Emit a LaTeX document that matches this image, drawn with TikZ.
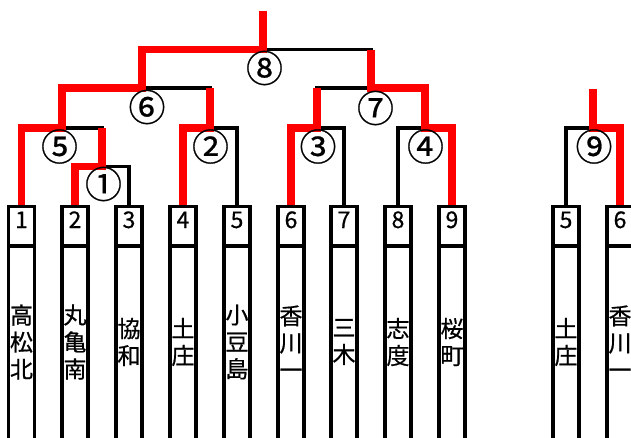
\documentclass[tikz,border=0pt]{standalone}
\usepackage{fontspec}
\newfontfamily\jp{Noto Sans CJK JP}
\newfontfamily\jpb[FakeBold=0.6]{Noto Sans CJK JP}
\begin{document}
\begin{tikzpicture}[x=1pt,y=-1pt,
  blk/.style={line width=3.2pt,black},
  redl/.style={line width=7.5pt,red,line join=miter},
  numbox/.style={draw,line width=3.6pt,minimum width=26pt,minimum height=39.5pt,inner sep=0pt,outer sep=0pt},
  namebox/.style={draw,line width=3.6pt,minimum width=26pt,minimum height=200pt,inner sep=0pt,outer sep=0pt,anchor=north},
  numtxt/.style={font=\jpb\fontsize{23}{23}\selectfont,inner sep=0pt,anchor=base},
  nametxt/.style={font=\jpb\fontsize{23}{27}\selectfont,inner sep=0pt,align=center},
  lab/.style={font=\jpb\fontsize{37}{37}\selectfont,inner sep=0pt}]
\useasboundingbox (0,0) rectangle (631,437);
\clip (0,0) rectangle (631,437);
\fill[white] (0,0) rectangle (631,437);
% junctions
\coordinate (m1) at (102,166.5);
\coordinate (m5) at (62,128);
\coordinate (m2) at (210,128);
\coordinate (m6) at (142,88);
\coordinate (m3) at (317,128);
\coordinate (m4) at (425,128);
\coordinate (m7) at (371,88);
\coordinate (m8) at (263,49.5);
\coordinate (top8) at (263,11);
\coordinate (m9) at (593,128);
\coordinate (top9) at (593,89);
\foreach \i/\x in {1/21.5,2/75,3/129,4/183,5/237,6/291,7/344,8/398,9/452,10/566,11/620}{
  \coordinate (c\i) at (\x,206.5);
}
% black brackets
\draw[blk] (c2) |- (m1) -| (c3);
\draw[blk] (c1) |- (m5) -| (m1);
\draw[blk] (c4) |- (m2) -| (c5);
\draw[blk] (m5) |- (m6) -| (m2);
\draw[blk] (c6) |- (m3) -| (c7);
\draw[blk] (c8) |- (m4) -| (c9);
\draw[blk] (m3) |- (m7) -| (m4);
\draw[blk] (m6) |- (m8) -| (m7);
\draw[blk] (m8) -- (top8);
\draw[blk] (c10) |- (m9) -| (c11);
\draw[blk] (m9) -- (top9);
% red winner paths
\draw[redl] (c1) |- (m5) |- (m6) |- (m8) -- (top8);
\draw[redl] (c2) |- (m1) -- (m1 |- m5);
\draw[redl] (c4) |- (m2) -- (m2 |- m6);
\draw[redl] (c6) |- (m3) -- (m3 |- m7);
\draw[redl] (c9) |- (m4) |- (m7) -- (m7 |- m8);
\draw[redl] (c11) |- (m9) -- (top9);
% team boxes
\foreach \i/\n/\t in {1/1/高\\松\\北,2/2/丸\\亀\\南,3/3/協\\和,4/4/土\\庄,5/5/小\\豆\\島,6/6/香\\川\\一,7/7/三\\木,8/8/志\\度,9/9/桜\\町,10/5/土\\庄,11/6/香\\川\\一}{
  \node[numbox,anchor=north] (b\i) at (c\i) {};
  \node[numtxt] (d\i) at ([shift={(0,21.5)}]c\i) {\n};
  \node[namebox] (n\i) at (b\i.south) {};
  \node[nametxt] (t\i) at ([shift={(0,135.5)}]c\i) {\t};
}
% match labels
\node[lab] (l1) at (103.5,184) {①};
\node[lab] (l5) at (59.5,146.5) {⑤};
\node[lab] (l2) at (210.5,146.5) {②};
\node[lab] (l6) at (147,107) {⑥};
\node[lab] (l8) at (264.5,68) {⑧};
\node[lab] (l3) at (318,146.5) {③};
\node[lab] (l4) at (425.5,146.5) {④};
\node[lab] (l7) at (375.5,108) {⑦};
\node[lab] (l9) at (594,146.5) {⑨};
\end{tikzpicture}
\end{document}
